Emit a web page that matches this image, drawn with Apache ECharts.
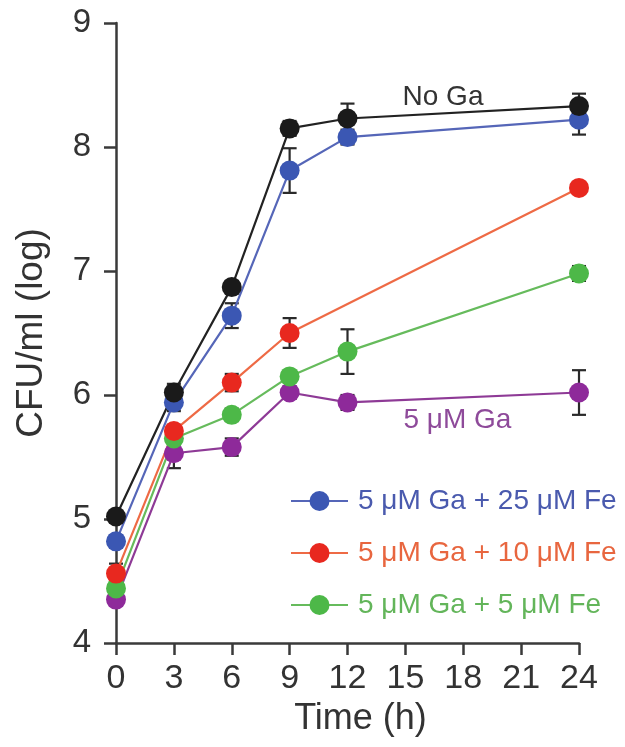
<!DOCTYPE html>
<html>
<head>
<meta charset="utf-8">
<script src="https://cdn.jsdelivr.net/npm/echarts@6/dist/echarts.min.js"></script>
<style>
html,body{margin:0;padding:0;background:#fff;}
#chart{width:625px;height:747px;}
</style>
</head>
<body>
<div id="chart"></div>
<script>
// Data (time in hours, CFU/ml log)
var xTicks = [0, 3, 6, 9, 12, 15, 18, 21, 24];
var timesAll = [0, 3, 6, 9, 12, 24];
var timesRed = [0, 3, 6, 9, 24];

var noGa      = [5.02, 6.02, 6.87, 8.15, 8.23, 8.33];
var noGaErr   = [0.03, 0.07, 0.05, 0.06, 0.12, 0.10];
var fe25      = [4.82, 5.94, 6.64, 7.81, 8.08, 8.22];
var fe25Err   = [0.05, 0.07, 0.10, 0.18, 0.06, 0.12];
var fe10      = [4.56, 5.71, 6.10, 6.50, 7.67];
var fe10Err   = [0.08, 0.05, 0.07, 0.12, 0.04];
var fe5       = [4.44, 5.65, 5.84, 6.15, 6.35, 6.98];
var fe5Err    = [0.04, 0.05, 0.05, 0.04, 0.18, 0.06];
var ga5       = [4.35, 5.53, 5.58, 6.02, 5.94, 6.02];
var ga5Err    = [0.04, 0.12, 0.07, 0.05, 0.06, 0.18];

var names = ['No Ga', '5 \u03bcM Ga + 25 \u03bcM Fe', '5 \u03bcM Ga + 10 \u03bcM Fe', '5 \u03bcM Ga + 5 \u03bcM Fe', '5 \u03bcM Ga'];
var markerColors = ['#1a1a1a', '#3b57b3', '#e8281f', '#4db848', '#8e2a9a'];
var lineColors   = ['#222222', '#5566b8', '#ee6a45', '#66bb5c', '#8e3a96'];
var textColors   = ['#333333', '#4a5aae', '#e8663f', '#63b55a', '#8e4a9a'];

function pairs(xs, ys) { return xs.map(function (x, i) { return [x, ys[i]]; }); }
function errData(xs, ys, es) { return xs.map(function (x, i) { return [x, ys[i] - es[i], ys[i] + es[i]]; }); }

var sets = [
  [timesAll, noGa, noGaErr],
  [timesAll, fe25, fe25Err],
  [timesRed, fe10, fe10Err],
  [timesAll, fe5, fe5Err],
  [timesAll, ga5, ga5Err]
];

var series = [];
var font = 'Liberation Sans, Arial, Helvetica, sans-serif';

[4, 3, 2, 1, 0].forEach(function (k) {
  var s = sets[k];
  series.push({
    type: 'custom',
    name: names[k] + ' err',
    data: errData(s[0], s[1], s[2]),
    z: 2,
    silent: true,
    renderItem: function (params, api) {
      var x = api.value(0);
      var lo = api.coord([x, api.value(1)]);
      var hi = api.coord([x, api.value(2)]);
      var w = 7;
      var st = { stroke: '#2a2a2a', lineWidth: 2.2 };
      return {
        type: 'group',
        children: [
          { type: 'line', shape: { x1: lo[0], y1: lo[1], x2: hi[0], y2: hi[1] }, style: st },
          { type: 'line', shape: { x1: lo[0] - w, y1: lo[1], x2: lo[0] + w, y2: lo[1] }, style: st },
          { type: 'line', shape: { x1: hi[0] - w, y1: hi[1], x2: hi[0] + w, y2: hi[1] }, style: st }
        ]
      };
    }
  });
  series.push({
    type: 'line',
    name: names[k],
    data: pairs(s[0], s[1]),
    symbol: 'circle',
    symbolSize: 20,
    z: 3,
    lineStyle: { color: lineColors[k], width: 2.2 },
    itemStyle: { color: markerColors[k] },
    emphasis: { disabled: true },
    animation: false
  });
});

var option = {
  animation: false,
  backgroundColor: '#ffffff',
  grid: { left: 116, right: 46, top: 23, bottom: 104, containLabel: false },
  legend: {
    orient: 'vertical',
    left: 285,
    top: 481,
    itemWidth: 57,
    itemHeight: 25,
    itemGap: 22,
    selectedMode: false,
    textStyle: { fontFamily: font, fontSize: 28, lineHeight: 30, padding: [0, 0, 0, 5] },
    data: [1, 2, 3].map(function (k) {
      return { name: names[k], textStyle: { color: textColors[k], fontSize: 28, lineHeight: 30, fontFamily: font, padding: [0, 0, 0, 5] } };
    })
  },
  xAxis: {
    type: 'value',
    min: 0, max: 24, interval: 3,
    name: 'Time (h)',
    nameLocation: 'middle',
    nameGap: 58,
    nameTextStyle: { fontFamily: font, fontSize: 36, color: '#333', padding: [0, 0, 0, 26] },
    axisLine: { show: true, onZero: false, lineStyle: { color: '#3a3a3a', width: 2.5 } },
    axisTick: { show: true, inside: false, length: 12, lineStyle: { color: '#3a3a3a', width: 2.5 } },
    axisLabel: { fontFamily: font, fontSize: 34, color: '#333', margin: 19 },
    splitLine: { show: false }
  },
  yAxis: {
    type: 'value',
    min: 4, max: 9, interval: 1,
    name: 'CFU/ml (log)',
    nameLocation: 'middle',
    nameGap: 66,
    nameRotate: 90,
    nameTextStyle: { fontFamily: font, fontSize: 37, color: '#333' },
    axisLine: { show: true, onZero: false, lineStyle: { color: '#3a3a3a', width: 2.5 } },
    axisTick: { show: true, inside: false, length: 12, lineStyle: { color: '#3a3a3a', width: 2.5 } },
    axisLabel: { fontFamily: font, fontSize: 33, color: '#333', margin: 25 },
    splitLine: { show: false }
  },
  series: series
};

var chart = echarts.init(document.getElementById('chart'), null, { renderer: 'canvas' });
chart.setOption(option);

// Series annotations, placed through the chart's own scales
var pNoGa = chart.convertToPixel({ gridIndex: 0 }, [16.95, 8.40]);
var pGa = chart.convertToPixel({ gridIndex: 0 }, [17.7, 5.80]);
chart.setOption({
  graphic: [
    { type: 'text', x: pNoGa[0], y: pNoGa[1], style: { text: 'No Ga', fill: '#333', font: '28px ' + font, textAlign: 'center', textVerticalAlign: 'middle' } },
    { type: 'text', x: pGa[0], y: pGa[1], style: { text: '5 \u03bcM Ga', fill: textColors[4], font: '28px ' + font, textAlign: 'center', textVerticalAlign: 'middle' } }
  ]
});
</script>
</body>
</html>
